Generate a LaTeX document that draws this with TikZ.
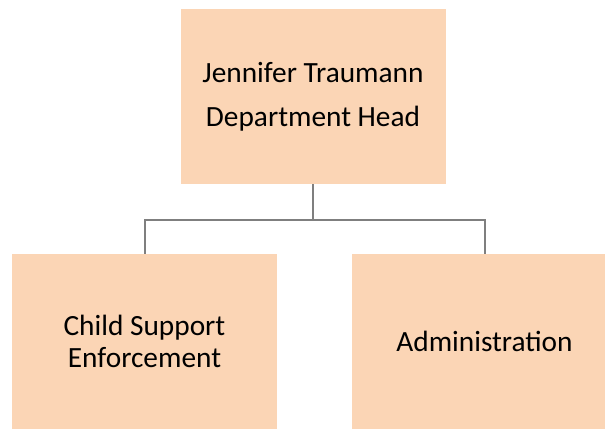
\documentclass[tikz,border=0pt]{standalone}
\usepackage{fontspec}
\setmainfont{Carlito}
\definecolor{peach}{HTML}{FBD5B5}
\definecolor{linegray}{HTML}{7F7F7F}
\begin{document}
\begin{tikzpicture}[x=0.75pt,y=-0.75pt,
  orgbox/.style={fill=peach, draw=none, inner sep=0pt, minimum width=198.75pt, minimum height=131.25pt, align=center, font=\fontsize{22}{23.8}\selectfont},
  conn/.style={draw=linegray, line width=1.5pt}]
\useasboundingbox (0,0) rectangle (605,428);
\clip (0,0) rectangle (605,428);
\node[orgbox] (head) at (313,96.5) {Jennifer Traumann\\[9pt]Department Head};
\node[orgbox] (cse) at (144.5,341.5) {Child Support\\Enforcement};
\node[orgbox] (admin) at (484.5,341.5) {Administration};
\draw[conn] (head.south) -- ++(0,36) -| (cse.north);
\draw[conn] (head.south) -- ++(0,36) -| (admin.north);
\end{tikzpicture}
\end{document}
